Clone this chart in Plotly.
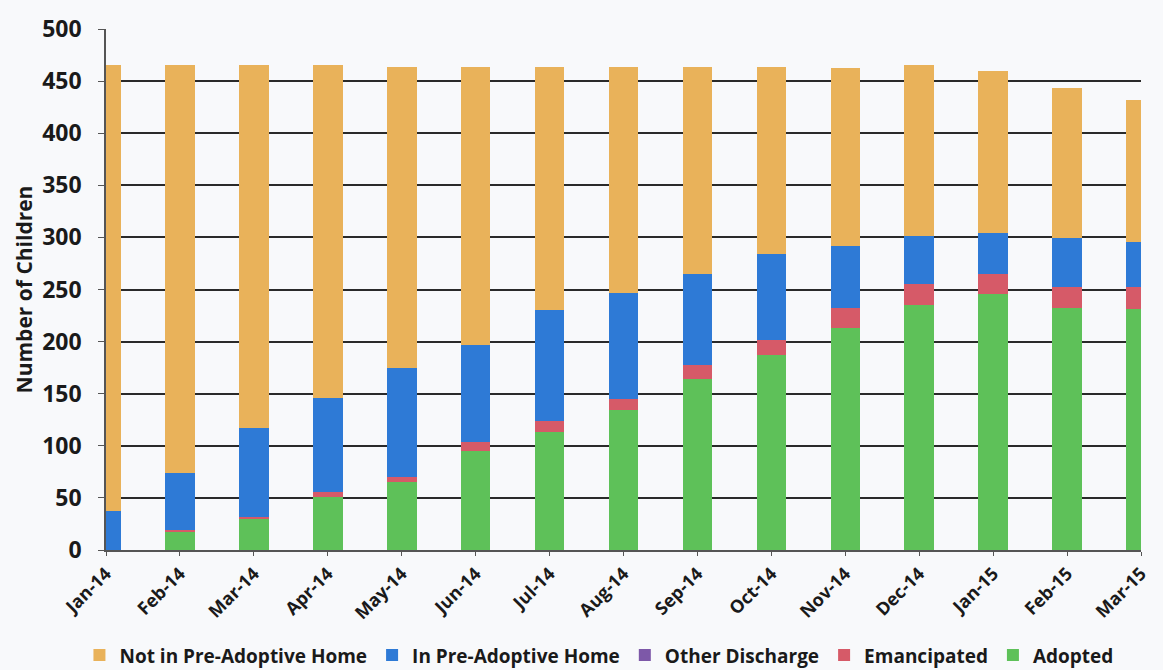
import plotly.graph_objects as go

months = ["Jan-14", "Feb-14", "Mar-14", "Apr-14", "May-14", "Jun-14", "Jul-14",
          "Aug-14", "Sep-14", "Oct-14", "Nov-14", "Dec-14", "Jan-15", "Feb-15", "Mar-15"]

adopted = [0, 18, 30, 51, 65, 95, 113, 134, 164, 187, 213, 235, 246, 232, 231]
emancipated = [0, 1, 2, 5, 5, 9, 11, 11, 14, 15, 19, 20, 19, 20, 21]
other_discharge = [0, 0, 0, 0, 0, 0, 0, 0, 0, 0, 0, 0, 0, 0, 0]
in_pre_adoptive = [37, 55, 85, 90, 105, 93, 106, 102, 87, 82, 60, 46, 39, 47, 44]
not_in_pre_adoptive = [428, 391, 348, 319, 289, 267, 234, 217, 199, 180, 171, 164, 156, 144, 136]

y_ticks = [0, 50, 100, 150, 200, 250, 300, 350, 400, 450, 500]

series = [
    ("Adopted", adopted, "#5EC159"),
    ("Emancipated", emancipated, "#D65A68"),
    ("Other Discharge", other_discharge, "#7D58A8"),
    ("In Pre-Adoptive Home", in_pre_adoptive, "#2E7AD6"),
    ("Not in Pre-Adoptive Home", not_in_pre_adoptive, "#E9B25A"),
]

fig = go.Figure()
for name, vals, col in series:
    fig.add_trace(go.Bar(x=months, y=vals, name=name, marker_color=col,
                         marker_line_width=0))

font_family = "Open Sans, Noto Sans, sans-serif"
fig.update_layout(
    barmode="stack",
    bargap=0.6,
    width=1163, height=670,
    margin=dict(l=106, r=13, t=20, b=120),
    paper_bgcolor="#f8f9fb",
    plot_bgcolor="#f8f9fb",
    font=dict(family=font_family, color="#1a1a1a"),
    legend=dict(orientation="h", traceorder="reversed",
                xref="container", yref="container",
                x=0.515, xanchor="center", y=0.022, yanchor="middle",
                font=dict(size=19, family=font_family, color="#1a1a1a", weight="bold"),
                itemwidth=30, tracegroupgap=0),
    xaxis=dict(range=[0, 14], tickangle=-45, showgrid=False,
               tickfont=dict(size=18, weight="bold"),
               ticks="outside", ticklen=4, tickcolor="#555",
               showline=True, linecolor="#555", linewidth=2),
    yaxis=dict(range=[0, 500], tickvals=y_ticks, showgrid=True, gridcolor="#2a2a2a",
               gridwidth=2, zeroline=False,
               tickfont=dict(size=23, weight="bold"),
               ticks="outside", ticklen=6, tickcolor="#555",
               ticklabelstandoff=12,
               showline=True, linecolor="#555", linewidth=1.5,
               title=dict(text="Number of Children", font=dict(size=21, weight="bold"),
                          standoff=4)),
)

fig.write_html("out.html")
